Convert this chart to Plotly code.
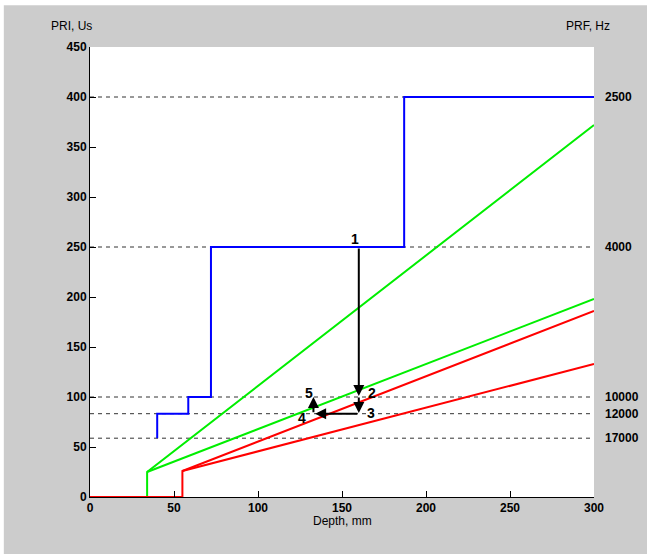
import plotly.graph_objects as go

# Data
blue_x = [40, 40, 58.5, 58.5, 72, 72, 187, 187, 300]
blue_y = [58.8, 83.3, 83.3, 100, 100, 250, 250, 400, 400]
green1_x = [34, 34, 300]
green1_y = [0, 25, 372]
green2_x = [34, 300]
green2_y = [25, 198]
red1_x = [0, 55, 55, 300]
red1_y = [0, 0, 26, 186]
red2_x = [55, 300]
red2_y = [26, 133]

prf_labels = ["2500", "4000", "10000", "12000", "17000"]
prf_pri = [400, 250, 100, 83.3, 58.8]

x_ticks = [0, 50, 100, 150, 200, 250, 300]
y_ticks = [0, 50, 100, 150, 200, 250, 300, 350, 400, 450]

# arrows: (tail_x, tail_y, head_x, head_y)
arrow_tail_x = [160, 160, 160, 133]
arrow_tail_y = [250, 101, 83.3, 83.3]
arrow_head_x = [160, 160, 134, 133]
arrow_head_y = [101, 84, 83.3, 100]

step_labels = ["1", "2", "3", "4", "5"]
step_x = [158, 168, 167, 126, 130.5]
step_y = [258, 104, 84, 79, 104]

fig = go.Figure()

# dashed reference lines
for v in prf_pri:
    fig.add_trace(go.Scatter(x=[0, 300], y=[v, v], mode="lines",
                             line=dict(color="#333333", width=1, dash="4px,4px"),
                             hoverinfo="skip", showlegend=False))

fig.add_trace(go.Scatter(x=blue_x, y=blue_y, mode="lines", line=dict(color="#0000ff", width=2), showlegend=False))
fig.add_trace(go.Scatter(x=green1_x, y=green1_y, mode="lines", line=dict(color="#00ee00", width=2), showlegend=False))
fig.add_trace(go.Scatter(x=green2_x, y=green2_y, mode="lines", line=dict(color="#00ee00", width=2), showlegend=False))
fig.add_trace(go.Scatter(x=red1_x, y=red1_y, mode="lines", line=dict(color="#ff0000", width=2), showlegend=False))
fig.add_trace(go.Scatter(x=red2_x, y=red2_y, mode="lines", line=dict(color="#ff0000", width=2), showlegend=False))

annotations = []
for tx, ty, hx, hy in zip(arrow_tail_x, arrow_tail_y, arrow_head_x, arrow_head_y):
    annotations.append(dict(x=hx, y=hy, ax=tx, ay=ty, xref="x", yref="y", axref="x", ayref="y",
                            showarrow=True, arrowhead=2, arrowsize=1.1, arrowwidth=2,
                            arrowcolor="black", text=""))
for t, x, y in zip(step_labels, step_x, step_y):
    annotations.append(dict(x=x, y=y, xref="x", yref="y", text="<b>" + t + "</b>", showarrow=False,
                            font=dict(size=14, color="black", family="Liberation Sans")))
for t, v in zip(prf_labels, prf_pri):
    annotations.append(dict(x=1.018, y=v, xref="paper", yref="y", text=t, showarrow=False,
                            xanchor="left", yanchor="middle",
                            font=dict(size=12, color="black", family="Liberation Sans", weight="bold")))
annotations.append(dict(x=-0.036, y=1.047, xref="paper", yref="paper", text="PRI, Us", showarrow=False,
                        xanchor="center", yanchor="middle",
                        font=dict(size=12, color="black", family="Liberation Sans")))
annotations.append(dict(x=0.988, y=1.047, xref="paper", yref="paper", text="PRF, Hz", showarrow=False,
                        xanchor="center", yanchor="middle",
                        font=dict(size=12, color="black", family="Liberation Sans")))
annotations.append(dict(x=0.5, y=-0.053, xref="paper", yref="paper", text="Depth, mm", showarrow=False,
                        xanchor="center", yanchor="middle",
                        font=dict(size=12, color="black", family="Liberation Sans")))

fig.update_layout(
    width=647, height=554, autosize=False,
    margin=dict(l=90, r=53, t=47, b=57),
    paper_bgcolor="#cccccc", plot_bgcolor="white",
    showlegend=False,
    annotations=annotations,
    font=dict(family="Liberation Sans", size=12, color="black"),
    shapes=[
        dict(type="rect", xref="paper", yref="paper", x0=-0.2, x1=-0.171, y0=-0.2, y1=1.2,
             fillcolor="white", line=dict(width=0), layer="below"),
        dict(type="rect", xref="paper", yref="paper", x0=-0.2, x1=1.2, y0=1.093, y1=1.2,
             fillcolor="white", line=dict(width=0), layer="below"),
    ],
    xaxis=dict(range=[0, 300], tickvals=x_ticks, ticks="inside", ticklen=6, tickcolor="black",
               showline=True, linecolor="black", linewidth=1, showgrid=False, zeroline=False,
               tickfont=dict(size=12, weight="bold")),
    yaxis=dict(range=[0, 450], tickvals=y_ticks, ticks="inside", ticklen=6, tickcolor="black",
               showline=True, linecolor="black", linewidth=1, showgrid=False, zeroline=False,
               tickfont=dict(size=12, weight="bold")),
)

fig.write_html("out.html")
